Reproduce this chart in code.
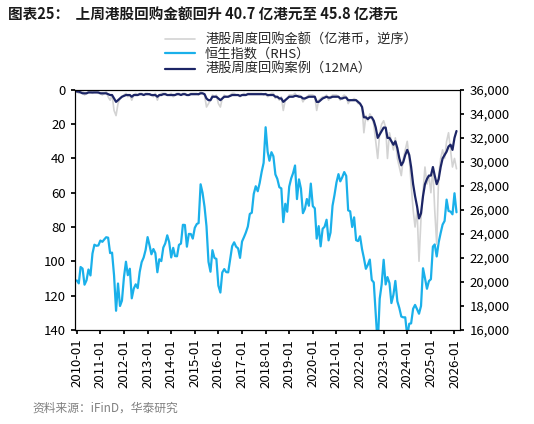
import numpy as np, pandas as pd, matplotlib
matplotlib.use("Agg")
import matplotlib.pyplot as plt, seaborn as sns
import matplotlib.dates as mdates

hsi = [20122,19874,21239,21108,19765,20129,21030,20537,22358,23096,23008,23035,
23447,23338,23528,23720,23684,22398,22440,20535,17592,19864,17989,18434,
20390,21680,20555,21094,18629,19441,19796,19482,20840,21642,22030,22657,
23730,23020,22300,22737,22392,20803,21883,21731,22860,23206,23881,23306,
22035,22837,22151,22134,23082,23191,24757,24742,22933,23998,23987,23605,
24507,24823,24901,28133,27424,26250,24636,21671,20846,22640,21996,21914,
19683,19112,20777,21067,20815,20794,21891,22977,23297,22935,22790,22001,
23361,23741,24112,24615,25661,25765,27324,27970,27554,28246,29177,29919,
32887,30845,30093,30808,30469,28955,28583,27889,27789,24980,26507,25846,
27942,28633,29051,29699,26901,28543,27778,25725,26092,26907,26346,28190,
26313,26130,23603,24644,22961,24427,24595,25177,23459,24107,26341,27231,
28284,28980,28378,28725,29151,28828,25961,25879,24576,25377,23475,23398,
23802,22713,21997,21089,21415,21860,20157,19954,17223,14687,18597,19781,
21842,19786,20400,19895,18234,18916,20079,18382,17810,17112,17043,17047,
15485,16511,16541,17763,18080,17719,17345,17989,21134,20317,19424,20060,
20225,22941,23120,22119,23290,24072,24773,25078,26856,25907,25858,25630,
27387,25800]
buyback = [1,2,1,0.5,3,2,1,1,2,1,1,2, 2,3,2,1,4,6,3,12,15,8,5,4,
3,2,4,3,6,3,2,3,2,2,3,2, 2,3,3,4,2,6,3,2,2,2,3,3, 2,4,3,2,2,3,2,2,3,3,2,2,
2,2,3,1,2,3,10,8,6,3,4,3, 8,10,5,3,4,4,3,2,2,3,3,4, 3,2,3,2,2,2,2,2,2,2,2,3,
2,4,3,2,2,5,4,6,4,12,6,5, 3,3,3,2,4,3,4,7,5,4,3,3, 3,4,12,6,5,4,4,3,6,4,3,3,
3,4,6,4,3,4,8,6,6,5,6,8, 8,10,25,15,18,14,16,20,30,40,25,20,
18,22,40,25,30,35,28,40,45,50,40,35, 30,40,55,70,80,70,100,75,60,45,55,50,
60,45,70,90,50,40,35,40,30,25,35,45, 40,46]
ma12 = [1,1,1.5,2,2,2,1.5,1.5,1.5,1.5,1.5,1.5, 2,2,2,2,2.5,3,3,5,7,6,5,4,
3.5,3,3,3,4,3,3,3,2.5,2.5,3,2.5, 2.5,2.5,3,3,3,4,3,3,2.5,2.5,3,3,
3,3,3,2.5,2.5,3,2.5,2.5,3,3,2.5,2.5, 2.5,2.5,2.5,2,2,2.5,5,6,6,4,4,4,
5,6,5,4,4,4,3.5,3,3,3,3,3.5, 3,3,3,2.5,2.5,2.5,2.5,2.5,2.5,2.5,2.5,2.5,
2.5,3,3,3,3,4,4,5,5,7,6,5, 4,4,4,3.5,3.5,4,4,5,5,4.5,4,4,
4,4,7,7,6,5,4.5,4,4.5,4.5,4,4, 4,4,5,5,4.5,4.5,6,6,6,6,6,7,
8,10,16,16,17,16,16,18,22,28,26,24, 22,22,28,28,30,32,30,34,40,44,42,38,
35,38,45,55,62,68,75,72,62,55,52,50, 50,45,50,55,52,45,40,38,36,33,32,35, 28,24]
dates = pd.date_range("2010-01-01", periods=len(hsi), freq="MS")
df = pd.DataFrame({"date": dates, "hsi": hsi, "bb": buyback, "ma": ma12})

sns.set_theme(style="white")
plt.rcParams['font.family'] = ['Noto Sans CJK SC', 'DejaVu Sans']
fig = plt.figure(figsize=(5.34, 4.24), dpi=100)
ax = fig.add_axes([0.14, 0.222, 0.722, 0.566])
ax2 = ax.twinx()
sns.lineplot(data=df, x="date", y="bb", ax=ax, color="#d3d3d3", lw=1.2, label="港股周度回购金额（亿港币，逆序）", legend=False)
sns.lineplot(data=df, x="date", y="hsi", ax=ax2, color="#1ab0ea", lw=1.6, label="恒生指数（RHS）", legend=False)
sns.lineplot(data=df, x="date", y="ma", ax=ax, color="#1c2566", lw=1.6, label="港股周度回购案例（12MA）", legend=False)
ax.set_zorder(ax2.get_zorder()+1); ax.patch.set_visible(False)
ax.set_ylim(140, 0); ax.set_yticks(range(0, 141, 20))
ax2.set_ylim(16000, 36000); ax2.set_yticks(range(16000, 36001, 2000))
ax2.set_yticklabels([f"{v:,}" for v in range(16000, 36001, 2000)])
ax.set_xlim(pd.Timestamp("2009-12-01"), pd.Timestamp("2026-04-01"))
ax.xaxis.set_major_locator(mdates.YearLocator())
ax.xaxis.set_major_formatter(mdates.DateFormatter("%Y-%m"))
for a in (ax, ax2):
    a.set_xlabel(""); a.set_ylabel("")
    a.tick_params(labelsize=9.5, length=3, colors="black")
    for s in a.spines.values(): s.set_color("black"); s.set_linewidth(0.8)
ax.tick_params(axis="x", rotation=90, bottom=True)
h1, l1 = ax.get_legend_handles_labels(); h2, l2 = ax2.get_legend_handles_labels()
fig.legend([h1[0], h2[0], h1[1]], [l1[0], l2[0], l1[1]], loc="upper left",
           bbox_to_anchor=(0.3, 0.935), frameon=False, fontsize=9.5, handlelength=2.2,
           labelspacing=0.15, borderaxespad=0)
fig.text(0.015, 0.965, "图表25：  上周港股回购金额回升 40.7 亿港元至 45.8 亿港元",
         fontsize=10.5, fontweight="bold", va="center", color="#1a1a1a")
fig.text(0.06, 0.03, "资料来源：iFinD，华泰研究", fontsize=8.5, color="#808080")
fig.savefig("out.png", dpi=100)
